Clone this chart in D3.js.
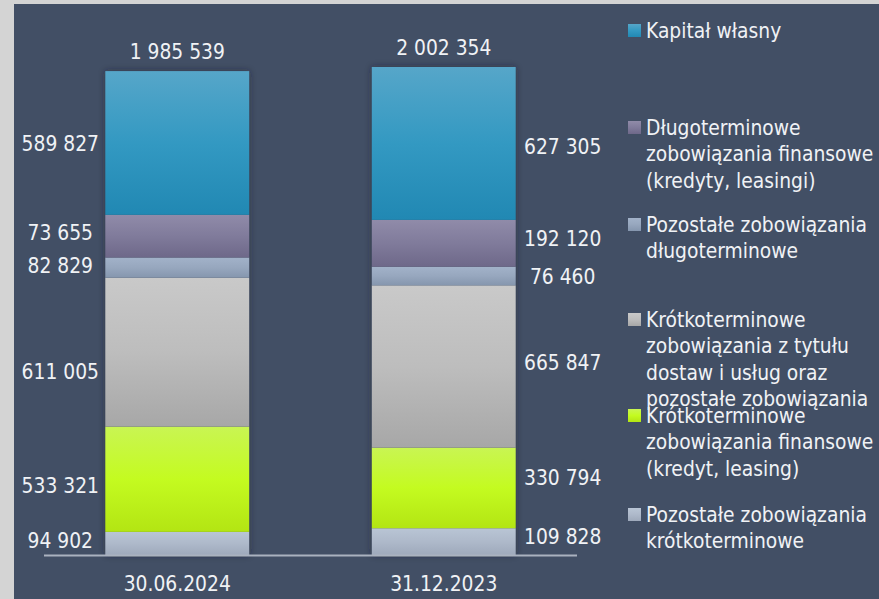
<!DOCTYPE html>
<html>
<head>
<meta charset="utf-8">
<script src="https://cdn.jsdelivr.net/npm/d3@7"></script>
<style>
  html, body { margin: 0; padding: 0; background: #d4d4d4; }
  svg { display: block; }
  text { font-family: "DejaVu Sans Condensed", "DejaVu Sans", sans-serif; fill: #f0f2f5; }
</style>
</head>
<body>
<div id="chart"></div>
<script>
// categories (bars, left to right)
var categories = ["30.06.2024", "31.12.2023"];
var totals = ["1 985 539", "2 002 354"];

// series, bottom to top of the stack
var seriesNames = [
  "Pozostałe zobowiązania krótkoterminowe",
  "Krótkoterminowe zobowiązania finansowe (kredyt, leasing)",
  "Krótkoterminowe zobowiązania z tytułu dostaw i usług oraz pozostałe zobowiązania",
  "Pozostałe zobowiązania długoterminowe",
  "Długoterminowe zobowiązania finansowe (kredyty, leasingi)",
  "Kapitał własny"
];

var pozostaleKrotko = [94902, 109828];
var finansoweKrotko = [432000, 330794];
var dostawKrotko = [611005, 665847];
var pozostaleDlugo = [82829, 76460];
var finansoweDlugo = [175000, 192120];
var kapital = [589827, 627305];

// data labels as printed
var pozostaleKrotkoLabels = ["94 902", "109 828"];
var finansoweKrotkoLabels = ["533 321", "330 794"];
var dostawKrotkoLabels = ["611 005", "665 847"];
var pozostaleDlugoLabels = ["82 829", "76 460"];
var finansoweDlugoLabels = ["73 655", "192 120"];
var kapitalLabels = ["589 827", "627 305"];

// legend, top to bottom (wrapped as in the picture)
var legendLines = [
  ["Kapitał własny"],
  ["Długoterminowe", "zobowiązania finansowe", "(kredyty, leasingi)"],
  ["Pozostałe zobowiązania", "długoterminowe"],
  ["Krótkoterminowe", "zobowiązania z tytułu", "dostaw i usług oraz", "pozostałe zobowiązania"],
  ["Krótkoterminowe", "zobowiązania finansowe", "(kredyt, leasing)"],
  ["Pozostałe zobowiązania", "krótkoterminowe"]
];

var seriesValues = [pozostaleKrotko, finansoweKrotko, dostawKrotko, pozostaleDlugo, finansoweDlugo, kapital];
var seriesLabels = [pozostaleKrotkoLabels, finansoweKrotkoLabels, dostawKrotkoLabels, pozostaleDlugoLabels, finansoweDlugoLabels, kapitalLabels];

// gradient stops per series [top, middle, bottom]
var gradients = [
  ["#b9c5d5", "#aeb9ca", "#9ea9bb"],
  ["#c9f553", "#c4fb20", "#b3e513"],
  ["#c9c9c9", "#bdbdbd", "#a7a7a7"],
  ["#a2b2c9", "#97a7be", "#8596ae"],
  ["#908ba9", "#807b9b", "#6e6889"],
  ["#56a6c9", "#3399c2", "#2188b3"]
];

// small vertical nudges of the printed labels [series][bar]
var labelShift = [[-3, -5], [6, -10], [19, -4], [-2, 0], [-4, -5], [1, 3]];

var svgWidth = 879;
var svgHeight = 599;
var fontSize = "20.8px";

var svg = d3.select("#chart")
  .append("svg")
  .attr("width", svgWidth)
  .attr("height", svgHeight);

// panel background with the light strip on the top and left
svg.append("rect")
  .attr("x", 14)
  .attr("y", 4)
  .attr("width", svgWidth - 14)
  .attr("height", svgHeight - 4)
  .attr("fill", "#424f65");

var defs = svg.append("defs");

gradients.forEach(function(g, i) {
  var lg = defs.append("linearGradient")
    .attr("id", "grad" + i)
    .attr("x1", 0).attr("y1", 0)
    .attr("x2", 0).attr("y2", 1);
  lg.append("stop").attr("offset", "0%").attr("stop-color", g[0]);
  lg.append("stop").attr("offset", "50%").attr("stop-color", g[1]);
  lg.append("stop").attr("offset", "100%").attr("stop-color", g[2]);
});

var shadow = defs.append("filter")
  .attr("id", "shadow")
  .attr("x", "-20%").attr("y", "-5%")
  .attr("width", "140%").attr("height", "110%");
shadow.append("feDropShadow")
  .attr("dx", 0)
  .attr("dy", 0)
  .attr("stdDeviation", 3.5)
  .attr("flood-color", "#1c2230")
  .attr("flood-opacity", 0.55);

// build a table for d3.stack
var table = categories.map(function(c, j) {
  var row = { category: c };
  seriesValues.forEach(function(v, i) { row["s" + i] = v[j]; });
  return row;
});
var keys = seriesValues.map(function(v, i) { return "s" + i; });
var stacked = d3.stack().keys(keys)(table);

var xScale = d3.scaleBand()
  .domain(categories)
  .range([44, 577])
  .paddingInner(0.46)
  .paddingOuter(0.23);

var yMax = d3.max(stacked[stacked.length - 1], function(d) { return d[1]; });

var yScale = d3.scaleLinear()
  .domain([0, yMax])
  .range([555, 67]);

// bar shadows (drawn behind the segments)
svg.append("g")
  .selectAll("rect")
  .data(table)
  .enter()
  .append("rect")
  .attr("x", function(d) { return xScale(d.category); })
  .attr("y", function(d, j) { return yScale(stacked[stacked.length - 1][j][1]); })
  .attr("width", xScale.bandwidth())
  .attr("height", function(d, j) { return yScale(0) - yScale(stacked[stacked.length - 1][j][1]); })
  .attr("fill", "#3a4558")
  .attr("filter", "url(#shadow)");

var layers = svg.append("g")
  .selectAll("g")
  .data(stacked)
  .enter()
  .append("g")
  .attr("fill", function(d, i) { return "url(#grad" + i + ")"; });

layers.selectAll("rect")
  .data(function(d) { return d; })
  .enter()
  .append("rect")
  .attr("x", function(d) { return xScale(d.data.category); })
  .attr("y", function(d) { return yScale(d[1]); })
  .attr("width", xScale.bandwidth())
  .attr("height", function(d) { return yScale(d[0]) - yScale(d[1]); });

// baseline
svg.append("line")
  .attr("x1", 44)
  .attr("x2", 577)
  .attr("y1", yScale(0) + 0.5)
  .attr("y2", yScale(0) + 0.5)
  .attr("stroke", "#aab2bf")
  .attr("stroke-width", 2);

// segment labels: first bar on the left, second bar on the right
var labelX = [
  function() { return xScale(categories[0]) - 45; },
  function() { return xScale(categories[1]) + xScale.bandwidth() + 47; }
];

stacked.forEach(function(layer, i) {
  layer.forEach(function(d, j) {
    svg.append("text")
      .attr("x", labelX[j]())
      .attr("y", (yScale(d[0]) + yScale(d[1])) / 2 + labelShift[i][j])
      .attr("dy", "0.36em")
      .attr("text-anchor", "middle")
      .style("font-size", fontSize)
      .text(seriesLabels[i][j]);
  });
});

// totals above the bars
svg.append("g")
  .selectAll("text")
  .data(categories)
  .enter()
  .append("text")
  .attr("x", function(d) { return xScale(d) + xScale.bandwidth() / 2; })
  .attr("y", function(d, j) { return yScale(stacked[stacked.length - 1][j][1]) - 12; })
  .attr("text-anchor", "middle")
  .style("font-size", fontSize)
  .text(function(d, j) { return totals[j]; });

// category labels
svg.append("g")
  .selectAll("text")
  .data(categories)
  .enter()
  .append("text")
  .attr("x", function(d) { return xScale(d) + xScale.bandwidth() / 2; })
  .attr("y", 591)
  .attr("text-anchor", "middle")
  .style("font-size", fontSize)
  .text(function(d) { return d; });

// legend
var legendTop = [38, 135, 232, 327, 423, 522];
var lineHeight = 26.3;

legendLines.forEach(function(lines, k) {
  var si = seriesValues.length - 1 - k;
  var g = svg.append("g");
  g.append("rect")
    .attr("x", 628)
    .attr("y", legendTop[k] - 14)
    .attr("width", 13)
    .attr("height", 13)
    .attr("fill", "url(#grad" + si + ")");
  var t = g.append("text")
    .attr("x", 646)
    .attr("y", legendTop[k])
    .style("font-size", fontSize);
  lines.forEach(function(line, n) {
    t.append("tspan")
      .attr("x", 646)
      .attr("dy", n === 0 ? 0 : lineHeight)
      .text(line);
  });
});
</script>
</body>
</html>
